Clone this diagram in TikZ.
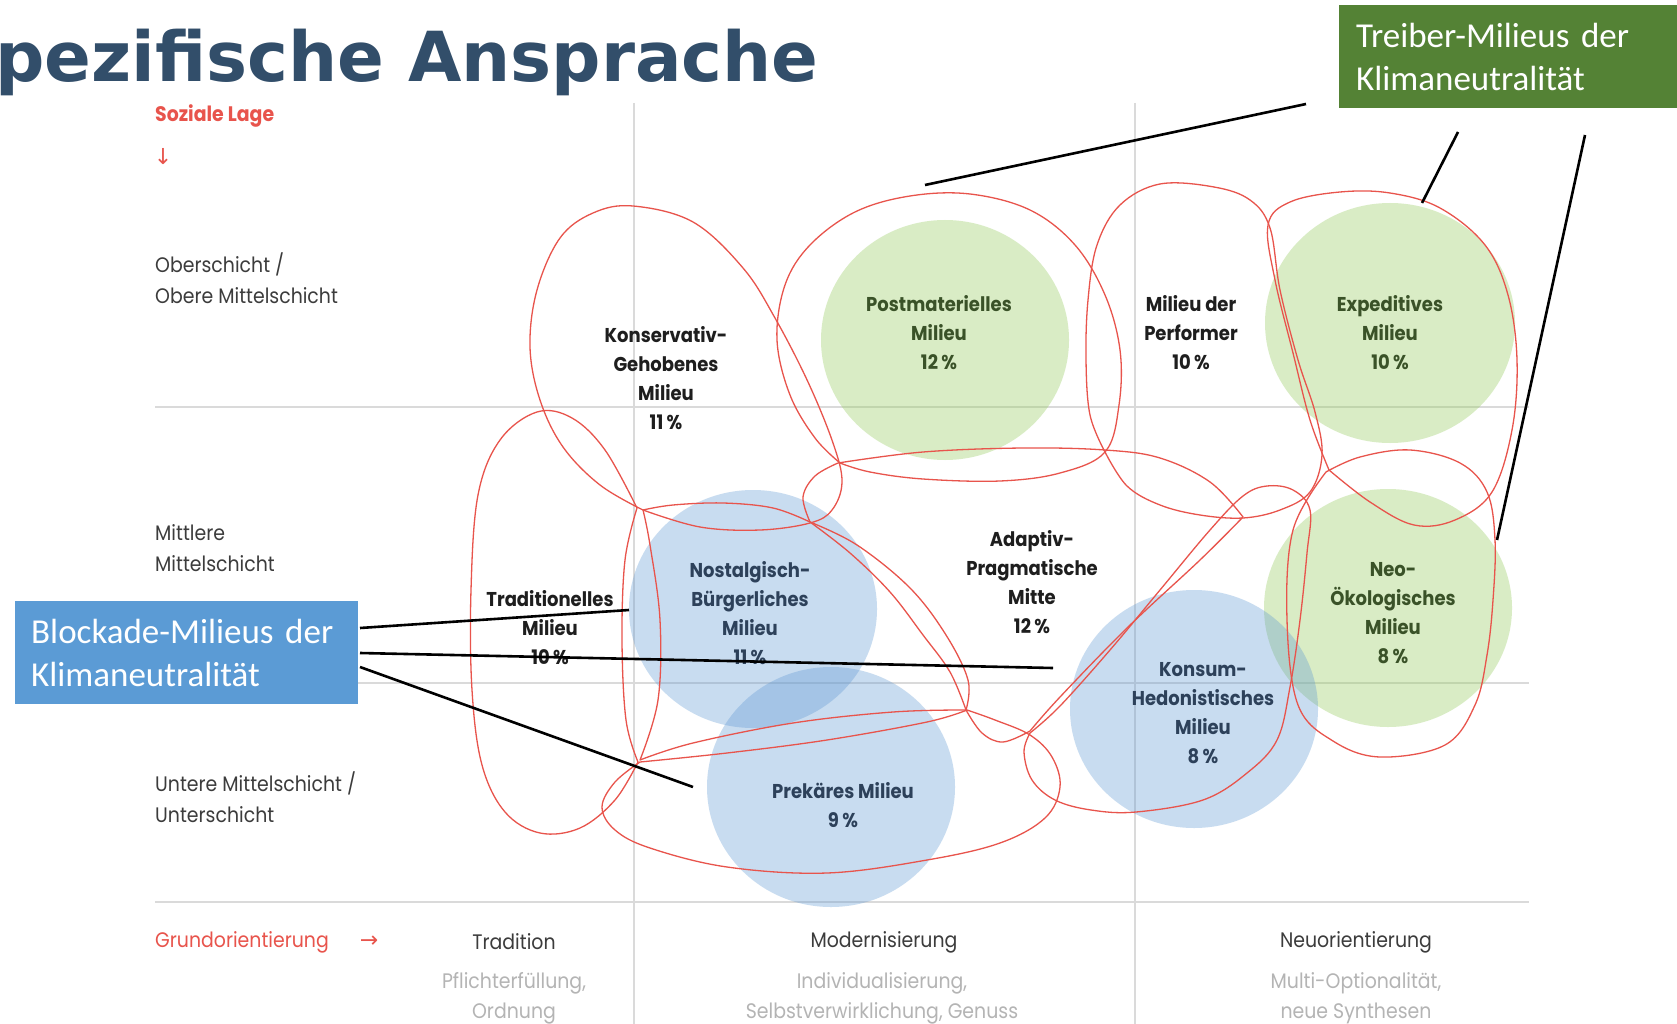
\documentclass[tikz,border=0pt]{standalone}
\usepackage{fontspec}
\newfontfamily\fut{Poppins}[FakeStretch=0.9]
\newfontfamily\calfont{Carlito}
\newfontfamily\dejafont{DejaVu Sans}
\definecolor{gridgray}{RGB}{218,218,218}
\definecolor{milred}{RGB}{232,84,76}
\definecolor{cblue}{RGB}{91,150,210}
\definecolor{cgreen}{RGB}{150,205,95}
\definecolor{labgray}{RGB}{60,60,60}
\definecolor{subgray}{RGB}{180,180,180}
\definecolor{lgreen}{RGB}{58,82,40}
\definecolor{lblue}{RGB}{45,65,90}
\definecolor{lblack}{RGB}{30,30,30}
\definecolor{titleblue}{RGB}{50,78,106}
\definecolor{treibergreen}{RGB}{84,130,53}
\definecolor{blockblue}{RGB}{91,155,213}
\tikzset{
  gridline/.style={draw=gridgray, line width=1.6pt},
  blob/.style={draw=milred, line width=1.3pt, line join=round},
  bluefill/.style={fill=cblue, fill opacity=0.33},
  greenfill/.style={fill=cgreen, fill opacity=0.36},
  mlab/.style={font=\fut\bfseries\fontsize{20}{29}\selectfont, align=center, inner sep=0pt},
  rlab/.style={font=\fut\fontsize{21}{31}\selectfont, align=left, inner sep=0pt, text=labgray},
  olab/.style={font=\fut\fontsize{21}{30}\selectfont, align=center, inner sep=0pt, text=labgray},
  slab/.style={font=\fut\fontsize{21}{30}\selectfont, align=center, inner sep=0pt, text=subgray},
  redlab/.style={font=\fut\fontsize{20}{24}\selectfont, inner sep=0pt, text=milred},
  arrowlab/.style={font=\dejafont\fontsize{22}{24}\selectfont, inner sep=0pt, text=milred},
  callout/.style={draw=black, line width=2.6pt},
  boxtext/.style={font=\calfont\fontsize{35}{43}\selectfont, text=white, align=left,
    anchor=north west, inner ysep=0pt, minimum height=103pt},
  sm/.style={smooth, tension=0.6},
}
\begin{document}
\begin{tikzpicture}[x=1pt,y=-1pt]
\useasboundingbox (0,0) rectangle (1677,1024);
\fill[white] (0,0) rectangle (1677,1024);
\clip (0,0) rectangle (1677,1024);

% grid
\draw[gridline] (155,407) -- (1529,407);
\draw[gridline] (155,683) -- (1529,683);
\draw[gridline] (155,902) -- (1529,902);
\draw[gridline] (634,103) -- (634,1024);
\draw[gridline] (1135,103) -- (1135,1024);

% filled circles
\fill[greenfill] (945,340) ellipse [x radius=124, y radius=120];
\fill[greenfill] (1390,323) ellipse [x radius=125, y radius=120];
\fill[greenfill] (1388,608) ellipse [x radius=124, y radius=119];
\fill[bluefill] (753,609) ellipse [x radius=124, y radius=119];
\fill[bluefill] (1194,709) ellipse [x radius=124, y radius=119];
\fill[bluefill] (831,787) ellipse [x radius=124, y radius=120];

% milieu outlines
% Konservativ-Gehobenes
\draw[blob] plot[sm] coordinates {(643,510) (600,485) (563,447) (540,400) (530,347) (537,290) (560,238) (593,213) (633,206) (693,222) (743,268) (775,318) (808,382) (833,443) (842,482) (832,510) (810,523) (760,530) (700,527) (643,510)} -- cycle;
% Traditionelles
\draw[blob] plot[sm] coordinates {(637,508) (625,560) (622,640) (626,720) (638,762)}
  -- plot[sm] coordinates {(638,762) (615,800) (580,828) (540,833) (505,812) (482,765) (472,690) (471,590) (478,495) (500,440) (537,412) (572,418) (605,450) (637,508)} -- cycle;
% Nostalgisch-Buergerliches
\draw[blob] plot[sm] coordinates {(643,510) (673,505) (723,503) (773,508) (810,522)}
  -- plot[sm] coordinates {(810,522) (857,545) (910,588) (946,635) (968,680) (966,710)}
  -- plot[sm] coordinates {(966,710) (893,712) (793,723) (693,743) (640,760)}
  -- plot[sm] coordinates {(640,760) (658,700) (660,620) (650,545) (643,510)} -- cycle;
% Prekaeres
\draw[blob] plot[sm] coordinates {(640,762) (727,753) (827,740) (927,722) (967,710)}
  -- plot[sm] coordinates {(967,710) (995,720) (1030,735) (1052,757) (1060,787) (1045,818) (1000,843) (927,860) (827,873) (727,867) (650,848) (615,830) (602,807) (615,782) (640,762)} -- cycle;
% Adaptiv-Pragmatische Mitte
\draw[blob] plot[sm] coordinates {(838,463) (923,452) (1023,448) (1105,450) (1160,458) (1210,482) (1243,517)}
  -- plot[sm] coordinates {(1243,517) (1200,560) (1127,628) (1060,697) (1030,731)}
  -- plot[sm] coordinates {(1030,731) (1003,742) (982,733) (966,710)}
  -- plot[sm] coordinates {(966,710) (950,672) (923,635) (890,592) (850,553) (810,522)}
  -- plot[sm] coordinates {(810,522) (803,497) (815,476) (838,463)} -- cycle;
% Postmaterielles
\draw[blob] plot[sm] coordinates {(840,463) (815,438) (790,395) (777,340) (785,285) (810,245) (855,212) (910,196) (970,194) (1030,210) (1075,245) (1105,295) (1120,350) (1119,405) (1105,452) (1060,473) (1000,481) (923,479) (870,472) (840,463)} -- cycle;
% Performer
\draw[blob] plot[sm] coordinates {(1105,452) (1090,415) (1086,360) (1088,300) (1097,245) (1120,205) (1160,184) (1214,187) (1250,200) (1270,228) (1280,290) (1298,360) (1315,412) (1322,455) (1310,492) (1280,510) (1243,518) (1200,515) (1160,505) (1127,486) (1105,452)} -- cycle;
% Expeditives
\draw[blob] plot[sm] coordinates {(1329,470) (1310,420) (1293,353) (1275,280) (1268,225) (1290,202) (1340,192) (1390,193) (1440,208) (1485,245) (1508,295) (1517,360) (1512,430) (1492,492) (1455,520) (1414,525) (1370,502) (1329,470)} -- cycle;
% Neo-Oekologisches
\draw[blob] plot[sm] coordinates {(1326,472) (1360,457) (1410,450) (1460,463) (1487,492) (1495,540) (1493,600) (1487,655) (1475,705) (1445,745) (1380,757) (1333,741) (1298,705) (1287,620) (1293,530) (1326,472)} -- cycle;
% Konsum-Hedonistisches
\draw[blob] plot[sm] coordinates {(1030,733) (1060,706) (1110,650) (1160,590) (1210,530) (1243,496) (1267,486) (1293,490) (1310,510) (1307,553) (1300,620) (1290,687) (1277,740) (1247,773) (1203,800) (1136,812) (1091,810) (1055,800) (1032,780) (1024,752) (1030,733)} -- cycle;

% axis labels
\node[redlab, anchor=west, font=\fut\bfseries\fontsize{21}{24}\selectfont] (soziale) at (155,116) {Soziale Lage};
\node[arrowlab] (downarrow) at (163,157) {↓};
\node[rlab, anchor=west] (oben) at (155,278) {Oberschicht /\\Obere Mittelschicht};
\node[rlab, anchor=west] (mitte) at (155,548) {Mittlere\\Mittelschicht};
\node[rlab, anchor=west] (unten) at (155,797) {Untere Mittelschicht /\\Unterschicht};
\node[redlab, anchor=west, font=\fut\fontsize{21}{24}\selectfont] (grund) at (155,942) {Grundorientierung};
\node[arrowlab] (rightarrow) at (369,942) {→};
\node[olab] (trad) at (514,942) {Tradition};
\node[slab] (tradsub) at (514,998) {Pflichterfüllung,\\Ordnung};
\node[olab] (modern) at (884,942) {Modernisierung};
\node[slab] (modernsub) at (882,998) {Individualisierung,\\Selbstverwirklichung, Genuss};
\node[olab] (neu) at (1356,942) {Neuorientierung};
\node[slab] (neusub) at (1356,998) {Multi-Optionalität,\\neue Synthesen};

% milieu labels
\node[mlab, text=lblack] (ket) at (666,378) {Konservativ-\\Gehobenes\\Milieu\\11\,\%};
\node[mlab, text=lgreen] (pma) at (939,333) {Postmaterielles\\Milieu\\12\,\%};
\node[mlab, text=lblack] (per) at (1191,333) {Milieu der\\Performer\\10\,\%};
\node[mlab, text=lgreen] (epe) at (1390,333) {Expeditives\\Milieu\\10\,\%};
\node[mlab, text=lblack] (pra) at (1032,582) {Adaptiv-\\Pragmatische\\Mitte\\12\,\%};
\node[mlab, text=lblack] (tra) at (550,628) {Traditionelles\\Milieu\\10\,\%};
\node[mlab, text=lblue] (bum) at (750,613) {Nostalgisch-\\Bürgerliches\\Milieu\\11\,\%};
\node[mlab, text=lgreen] (neo) at (1393,613) {Neo-\\Ökologisches\\Milieu\\8\,\%};
\node[mlab, text=lblue] (hed) at (1203,713) {Konsum-\\Hedonistisches\\Milieu\\8\,\%};
\node[mlab, text=lblue] (pre) at (843,805) {Prekäres Milieu\\9\,\%};

% title
\node[anchor=base west, inner sep=0pt, font=\dejafont\bfseries\fontsize{69}{80}\selectfont, text=titleblue] (title) at (-5,82) {pezifische Ansprache};

% callout boxes
\node[boxtext, fill=treibergreen, text width=307pt, inner xsep=17pt] (treiber) at (1339,5) {Treiber-Milieus der\\Klimaneutralität};
\node[boxtext, fill=blockblue, text width=311pt, inner xsep=16pt] (blockade) at (15,601) {Blockade-Milieus der\\Klimaneutralität};

% connector ends
\coordinate (g1a) at (1306,104); \coordinate (g1b) at (925,185);
\coordinate (g2a) at (1458,132); \coordinate (g2b) at (1422,203);
\coordinate (g3a) at (1585,135); \coordinate (g3b) at (1497,540);
\coordinate (b1a) at (360,628); \coordinate (b1b) at (629,610);
\coordinate (b2a) at (360,653); \coordinate (b2b) at (1053,668);
\coordinate (b3a) at (360,667); \coordinate (b3b) at (693,787);
\draw[callout] (g1a) -- (g1b);
\draw[callout] (g2a) -- (g2b);
\draw[callout] (g3a) -- (g3b);
\draw[callout] (b1a) -- (b1b);
\draw[callout] (b2a) -- (b2b);
\draw[callout] (b3a) -- (b3b);
\end{tikzpicture}
\end{document}
